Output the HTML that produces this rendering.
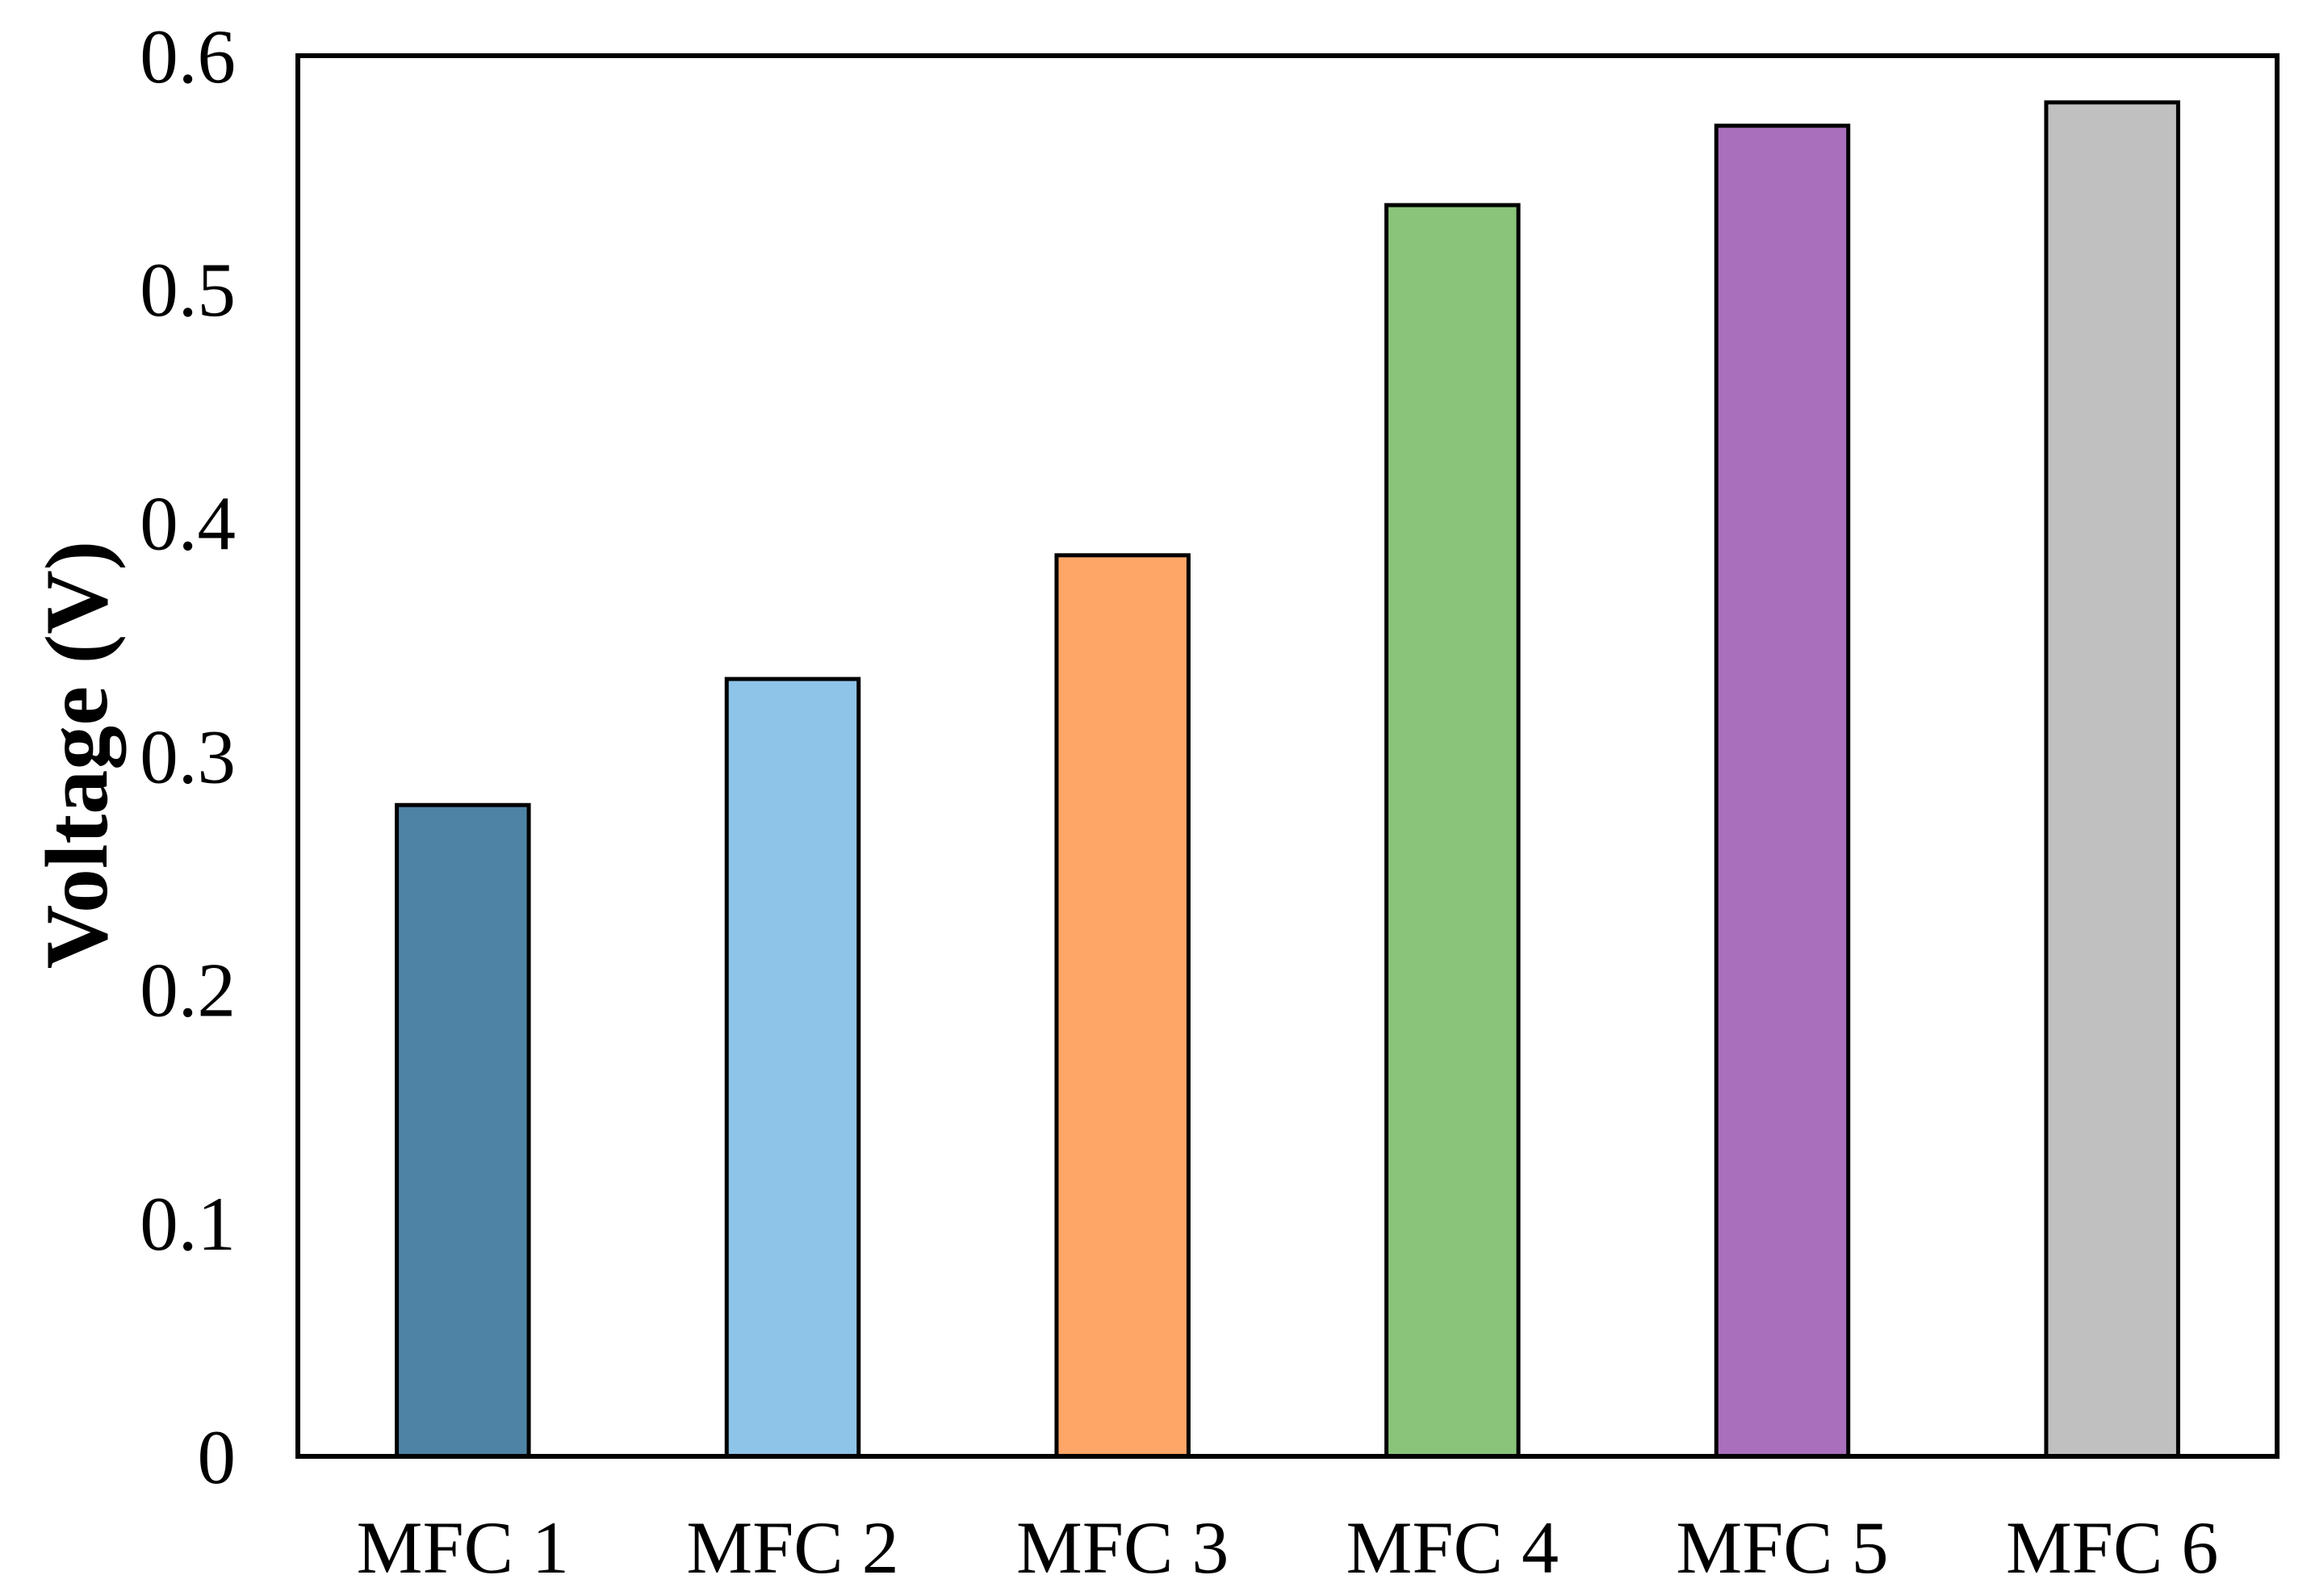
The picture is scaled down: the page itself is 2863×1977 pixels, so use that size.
<!DOCTYPE html>
<html><head><meta charset="utf-8"><style>
html,body{margin:0;padding:0;background:#fff;}
svg{display:block;}
text{font-family:"Liberation Serif",serif;fill:#000;}
</style></head><body>
<svg id="chart" width="2863" height="1977" viewBox="0 0 2863 1977" xmlns="http://www.w3.org/2000/svg">
<rect x="0" y="0" width="2863" height="1977" fill="#fff"/>
<g id="bars"></g>
<g id="yticks"></g>
<g id="xticks"></g>
<rect x="369" y="69" width="2452" height="1735" fill="none" stroke="#000" stroke-width="6"/>
<text transform="translate(132,935) rotate(-90)" text-anchor="middle" font-size="110" font-weight="bold">Voltage (V)</text>
</svg>
<script>
const categories = ["MFC 1","MFC 2","MFC 3","MFC 4","MFC 5","MFC 6"];
const voltages = [0.279, 0.333, 0.386, 0.536, 0.570, 0.580];
const barColors = ["#4f83a6","#8ec4e8","#fda668","#8ac47a","#a96fbd","#c0c0c0"];
const yTickValues = [0, 0.1, 0.2, 0.3, 0.4, 0.5, 0.6];
const yTickLabels = ["0","0.1","0.2","0.3","0.4","0.5","0.6"];

const L=369, R=2821, T=69, B=1804, yMax=0.6;
const NS="http://www.w3.org/2000/svg";
function yScale(v){return B-(v/yMax)*(B-T);}
const band=(R-L)/categories.length;
function xCenter(i){return L+band*(i+0.5);}
const bw=band*0.40;

const gb=document.getElementById('bars');
voltages.forEach((v,i)=>{
  const r=document.createElementNS(NS,'rect');
  
  
  r.setAttribute('x',xCenter(i)-bw/2);
  r.setAttribute('y',yScale(v));
  r.setAttribute('width',bw);
  r.setAttribute('height',B-yScale(v));
  r.setAttribute('fill',barColors[i]);
  r.setAttribute('stroke','#000');
  r.setAttribute('stroke-width','5');
  gb.appendChild(r);
});
const gy=document.getElementById('yticks');
yTickValues.forEach((v,i)=>{
  const t=document.createElementNS(NS,'text');
  
  
  t.setAttribute('x',292);
  t.setAttribute('y',yScale(v)+33);
  t.setAttribute('text-anchor','end');
  t.setAttribute('font-size','95');
  t.textContent=yTickLabels[i];
  gy.appendChild(t);
});
const gx=document.getElementById('xticks');
categories.forEach((c,i)=>{
  const t=document.createElementNS(NS,'text');
  
  
  t.setAttribute('x',xCenter(i));
  t.setAttribute('y',1948);
  t.setAttribute('text-anchor','middle');
  t.setAttribute('font-size','92');
  t.textContent=c;
  gx.appendChild(t);
});
</script>
</body></html>
